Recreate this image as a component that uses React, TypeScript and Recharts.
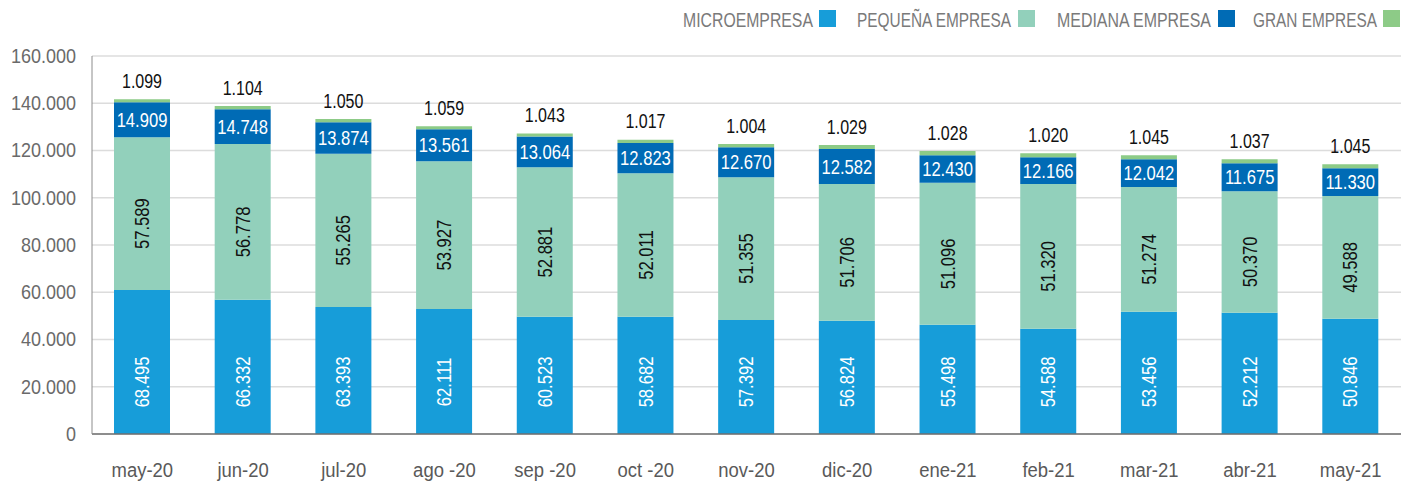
import { Bar, BarChart, CartesianGrid, LabelList, XAxis, YAxis } from 'recharts';

const months = ['may-20', 'jun-20', 'jul-20', 'ago -20', 'sep -20', 'oct -20', 'nov-20', 'dic-20', 'ene-21', 'feb-21', 'mar-21', 'abr-21', 'may-21'];

// bar heights as drawn
const micro = [61000, 56800, 53800, 52900, 49600, 49600, 48300, 47900, 46200, 44500, 51700, 51300, 48800];
const pequena = [64600, 65900, 64800, 62600, 63300, 60800, 60400, 57900, 60100, 61300, 52800, 51500, 51900];
const mediana = [14800, 14800, 13400, 13500, 13000, 12800, 12700, 14800, 11700, 11300, 11800, 11800, 11800];
const gran = [1300, 1300, 1300, 1300, 1300, 1300, 1300, 1700, 1800, 1700, 1700, 1700, 1700];

// values printed on the bars
const microLbl = [68495, 66332, 63393, 62111, 60523, 58682, 57392, 56824, 55498, 54588, 53456, 52212, 50846];
const pequenaLbl = [57589, 56778, 55265, 53927, 52881, 52011, 51355, 51706, 51096, 51320, 51274, 50370, 49588];
const medianaLbl = [14909, 14748, 13874, 13561, 13064, 12823, 12670, 12582, 12430, 12166, 12042, 11675, 11330];
const granLbl = [1099, 1104, 1050, 1059, 1043, 1017, 1004, 1029, 1028, 1020, 1045, 1037, 1045];

const yTicks = [0, 20000, 40000, 60000, 80000, 100000, 120000, 140000, 160000];

const legendItems = [
  { name: 'MICROEMPRESA', color: '#179dd9', x: 683, w: 130 },
  { name: 'PEQUEÑA EMPRESA', color: '#92d0bb', x: 857, w: 155 },
  { name: 'MEDIANA EMPRESA', color: '#006bb5', x: 1057, w: 155 },
  { name: 'GRAN EMPRESA', color: '#8dcb87', x: 1253, w: 124 },
];

const FONT = "'Liberation Sans', Arial, sans-serif";

// rough Arial advance widths, used to squeeze the legend text to the reference width
const capW: Record<string, number> = {
  A: 0.667, C: 0.722, D: 0.722, E: 0.667, G: 0.778, I: 0.278, M: 0.833, N: 0.722,
  'Ñ': 0.722, O: 0.778, P: 0.667, Q: 0.778, R: 0.722, S: 0.667, U: 0.722, ' ': 0.278,
};

const fmt = (v: number) => v.toLocaleString('de-DE');

const data = months.map((m, i) => ({
  month: m,
  micro: micro[i],
  pequena: pequena[i],
  mediana: mediana[i],
  gran: gran[i],
  microLbl: microLbl[i],
  pequenaLbl: pequenaLbl[i],
  medianaLbl: medianaLbl[i],
  granLbl: granLbl[i],
}));

type NTProps = {
  x: number;
  y: number;
  sx: number;
  rotate?: number;
  anchor?: 'start' | 'middle' | 'end';
  baseline?: 'central' | 'auto';
  dy?: string;
  fill: string;
  size: number;
  children: any;
};

const NarrowText = ({ x, y, sx, rotate = 0, anchor = 'middle', baseline = 'central', dy, fill, size, children }: NTProps) => (
  <g transform={`translate(${x}, ${y}) rotate(${rotate}) scale(${sx}, 1)`}>
    <text x={0} y={0} dy={dy} textAnchor={anchor} dominantBaseline={baseline} fill={fill} fontSize={size} fontFamily={FONT}>
      {children}
    </text>
  </g>
);

const VerticalLabel = (fill: string, mode: 'bottom' | 'center') => (props: any) => {
  const { x, y, width, height, value } = props;
  const cx = Number(x) + Number(width) / 2;
  const cy = mode === 'bottom' ? Number(y) + Number(height) - 52 : Number(y) + Number(height) / 2 + 10;
  return (
    <NarrowText x={cx} y={cy} sx={0.83} rotate={-90} fill={fill} size={20}>
      {fmt(value)}
    </NarrowText>
  );
};

const MedianaLabel = (props: any) => {
  const { x, y, width, height, value } = props;
  return (
    <NarrowText x={Number(x) + Number(width) / 2} y={Number(y) + Number(height) / 2} sx={0.83} fill="#ffffff" size={20}>
      {fmt(value)}
    </NarrowText>
  );
};

const GranLabel = (props: any) => {
  const { x, y, width, value } = props;
  return (
    <NarrowText x={Number(x) + Number(width) / 2} y={Number(y) - 18} sx={0.8} fill="#111111" size={20}>
      {fmt(value)}
    </NarrowText>
  );
};

const XTick = (props: any) => {
  const { x, y, payload } = props;
  return (
    <NarrowText x={x} y={y} sx={0.88} baseline="auto" dy="0.71em" fill="#595959" size={21}>
      {payload.value}
    </NarrowText>
  );
};

const YTick = (props: any) => {
  const { x, y, payload } = props;
  return (
    <NarrowText x={x} y={y} sx={0.9} anchor="end" fill="#6a6a6a" size={20}>
      {fmt(payload.value)}
    </NarrowText>
  );
};

export default function App() {
  return (
    <div style={{ position: 'relative', width: 1416, height: 483 }}>
      <style>{`body{margin:0}`}</style>
      <svg width={1416} height={40} style={{ position: 'absolute', left: 0, top: 0 }}>
        {legendItems.map((it) => {
          const natural = it.name.split('').reduce((s, c) => s + (capW[c] ?? 0.667), 0) * 21;
          return (
            <g key={it.name}>
              <NarrowText x={it.x} y={26.5} sx={it.w / natural} anchor="start" baseline="auto" fill="#7a7a7a" size={21}>
                {it.name}
              </NarrowText>
              <rect x={it.x + it.w + 6} y={10} width={17} height={17} fill={it.color} />
            </g>
          );
        })}
      </svg>
      <BarChart
        width={1416}
        height={483}
        data={data}
        margin={{ top: 56, right: 15, left: 0, bottom: 0 }}
        barSize={56}
      >
        <CartesianGrid vertical={false} stroke="#dcdcdc" strokeWidth={1.5} />
        <XAxis
          dataKey="month"
          height={49}
          tickLine={false}
          tickSize={6}
          tickMargin={22}
          axisLine={{ stroke: '#6f6f6f', strokeWidth: 1.5 }}
          tick={XTick}
          interval={0}
        />
        <YAxis
          width={92}
          domain={[0, 160000]}
          ticks={yTicks}
          tickLine={false}
          tickSize={6}
          tickMargin={10}
          axisLine={{ stroke: '#8c8c8c', strokeWidth: 1 }}
          tick={YTick}
          interval={0}
        />
        <Bar dataKey="micro" stackId="a" fill="#179dd9" isAnimationActive={false}>
          <LabelList dataKey="microLbl" content={VerticalLabel('#ffffff', 'bottom')} />
        </Bar>
        <Bar dataKey="pequena" stackId="a" fill="#92d0bb" isAnimationActive={false}>
          <LabelList dataKey="pequenaLbl" content={VerticalLabel('#111111', 'center')} />
        </Bar>
        <Bar dataKey="mediana" stackId="a" fill="#006bb5" isAnimationActive={false}>
          <LabelList dataKey="medianaLbl" content={MedianaLabel} />
        </Bar>
        <Bar dataKey="gran" stackId="a" fill="#8dcb87" isAnimationActive={false}>
          <LabelList dataKey="granLbl" content={GranLabel} />
        </Bar>
      </BarChart>
    </div>
  );
}
